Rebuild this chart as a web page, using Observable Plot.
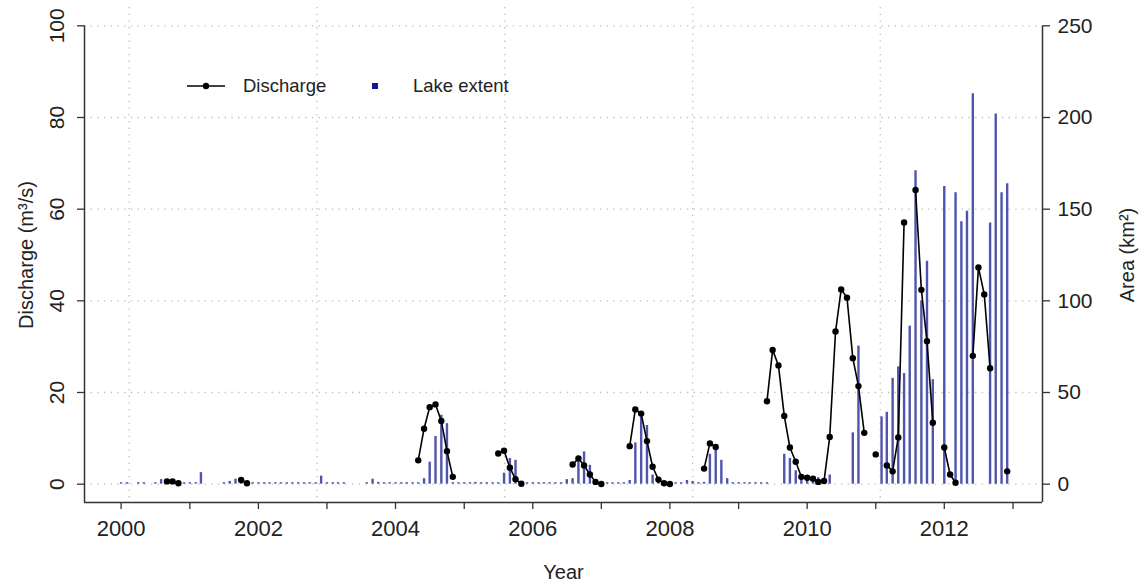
<!DOCTYPE html>
<html>
<head>
<meta charset="utf-8">
<script src="https://cdn.jsdelivr.net/npm/d3@7"></script>
<script src="https://cdn.jsdelivr.net/npm/@observablehq/plot@0.6"></script>
<style>
  html, body { margin: 0; padding: 0; background: #fff; }
  #chart { width: 1141px; height: 584px; }
</style>
</head>
<body>
<div id="chart"></div>
<script>
// Monthly series, January 2000 – December 2012 (one row of 12 per year).
const firstYear = 2000;

// River discharge (m³/s); null = no measurement that month
const discharge = [
  null, null, null, null, null, null, null, null, 0.6, 0.6, 0.2, null,   // 2000
  null, null, null, null, null, null, null, null, null, 0.9, 0.2, null,  // 2001
  null, null, null, null, null, null, null, null, null, null, null, null, // 2002
  null, null, null, null, null, null, null, null, null, null, null, null, // 2003
  null, null, null, null, 5.2, 12.1, 16.8, 17.4, 13.8, 7.2, 1.6, null,   // 2004
  null, null, null, null, null, null, 6.7, 7.3, 3.6, 1.1, 0.1, null,     // 2005
  null, null, null, null, null, null, null, 4.3, 5.6, 4.1, 2.1, 0.5,     // 2006
  0.05, null, null, null, null, 8.3, 16.3, 15.4, 9.4, 3.8, 1.0, 0.2,     // 2007
  0.05, null, null, null, null, null, 3.4, 8.9, 8.1, null, null, null,   // 2008
  null, null, null, null, null, 18.1, 29.3, 25.9, 14.9, 8.0, 4.9, 1.6,   // 2009
  1.4, 1.2, 0.5, 0.7, 10.3, 33.3, 42.5, 40.7, 27.5, 21.4, 11.2, null,    // 2010
  6.5, null, 4.1, 2.8, 10.2, 57.1, null, 64.2, 42.4, 31.2, 13.4, null,   // 2011
  8.0, 2.1, 0.3, null, null, 28.0, 47.3, 41.4, 25.3, null, null, 2.8     // 2012
];

// Glacial lake extent (km²); null = no scene that month
const lakeArea = [
  0.8, 0.8, null, 0.8, 0.8, null, 0.8, 2.5, 1.5, 1.0, 0.8, 0.8,          // 2000
  0.8, 0.8, 6.3, null, null, null, 0.8, 1.5, 2.7, 1.2, 0.8, 0.8,         // 2001
  0.8, 0.8, 0.8, 0.8, 0.8, 0.8, 0.8, 0.8, 0.8, 0.8, 0.8, 4.4,            // 2002
  0.8, 0.8, 0.8, 0.8, null, null, null, 0.8, 2.7, 1.0, 0.8, 0.8,         // 2003
  0.8, 0.8, 0.8, 0.8, 0.8, 3.0, 12.0, 26.0, 37.6, 33.0, 0.8, 0.8,        // 2004
  0.8, 0.8, 1.0, 0.8, 0.8, 0.8, 0.8, 6.0, 14.0, 13.0, 0.8, 0.8,          // 2005
  0.8, 0.8, 0.8, 0.8, 0.8, 0.8, 2.5, 3.0, 12.1, 17.6, 10.3, 0.8,         // 2006
  0.8, 0.8, 0.8, 0.8, 0.8, 2.0, 22.5, 38.5, 32.0, 5.0, 1.5, 0.8,         // 2007
  0.8, 0.8, 0.8, 2.0, 1.5, 0.8, 1.0, 16.3, 20.0, 13.0, 3.0, 0.8,         // 2008
  0.8, 0.8, 0.8, 0.8, 0.8, 0.8, null, null, 16.3, 14.0, 7.3, 4.0,        // 2009
  3.0, 3.0, 3.5, 3.0, 5.0, null, null, null, 28.0, 75.3, null, null,     // 2010
  null, 36.7, 39.2, 57.7, 64.0, 60.3, 86.2, 171.0, 100.0, 121.6, 57.0, null, // 2011
  162.3, null, 158.9, 143.2, 148.9, 213.0, null, null, 142.5, 201.9, 158.9, 163.8 // 2012
];

// Axis ticks
const dischargeTicks = [0, 20, 40, 60, 80, 100];
const areaTicks = [0, 50, 100, 150, 200, 250];
const tickYears = [2000, 2001, 2002, 2003, 2004, 2005, 2006, 2007, 2008, 2009, 2010, 2011, 2012, 2013];
// Vertical reference grid (every 1000 days of the date axis)
const gridDates = ["2000-02-13", "2002-11-09", "2005-08-05", "2008-05-01", "2011-01-25"];
// Date extent of the panel
const xExtent = ["1999-06-20", "2013-06-07"];

// Right axis: 250 km² of lake extent shares the height of 100 m³/s of discharge
const areaPerUnit = 2.5;

const utc = s => new Date(s + "T00:00:00Z");
const rows = discharge.map((q, i) => ({
  date: new Date(Date.UTC(firstYear + Math.floor(i / 12), i % 12, 1)),
  discharge: q,
  area: lakeArea[i]
}));
const xDomain = xExtent.map(utc);
const yearDates = tickYears.map(y => new Date(Date.UTC(y, 0, 1)));

const font = "'Liberation Sans', Arial, Helvetica, sans-serif";
const ink = "#222";
const axisInk = "#333";
const gridStyle = {stroke: "#bdbdbd", strokeWidth: 1.3, strokeDasharray: "1.3,5.4"};
const centred = {textAnchor: "middle", lineAnchor: "middle"};

const chart = Plot.plot({
  width: 1141,
  height: 584,
  marginLeft: 84,
  marginRight: 99,
  marginTop: 7,
  marginBottom: 82,
  style: {fontFamily: font, color: ink, background: "#fff", overflow: "visible"},
  x: {type: "utc", domain: xDomain, axis: null},
  y: {domain: [-4, 104], axis: null},
  marks: [
    // dotted grid
    Plot.ruleY(dischargeTicks, gridStyle),
    Plot.ruleX(gridDates.map(utc), gridStyle),

    // lake extent as thin vertical bars (right axis)
    Plot.ruleX(rows.filter(d => d.area != null), {
      x: "date", y1: 0, y2: d => d.area / areaPerUnit,
      stroke: "#4f54ad", strokeWidth: 2.4
    }),

    // discharge line with points (left axis)
    Plot.line(rows, {x: "date", y: "discharge", stroke: "#000", strokeWidth: 1.6}),
    Plot.dot(rows.filter(d => d.discharge != null), {x: "date", y: "discharge", r: 3.2, fill: "#000"}),

    // panel outline: bottom, left and right sides
    Plot.ruleY([-4], {stroke: axisInk, strokeWidth: 1.5}),
    Plot.ruleX(xDomain, {y1: -4, y2: 100, stroke: axisInk, strokeWidth: 1.5}),

    // bottom axis: yearly ticks, labels on even years
    Plot.axisX(yearDates, {
      anchor: "bottom", tickSize: 7, tickPadding: 11, fontSize: 22, label: null,
      stroke: axisInk, strokeWidth: 1.3,
      tickFormat: d => (d.getUTCFullYear() % 2 === 0 ? String(d.getUTCFullYear()) : "")
    }),

    // left axis: ticks and rotated labels
    Plot.axisY(dischargeTicks, {
      anchor: "left", tickSize: 7, label: null, stroke: axisInk, strokeWidth: 1.3,
      tickFormat: () => ""
    }),
    Plot.text(dischargeTicks, {
      y: d => d, text: d => String(d), frameAnchor: "left", dx: -27,
      rotate: -90, fontSize: 21, fill: ink, ...centred
    }),

    // right axis: lake area
    Plot.axisY(areaTicks.map(a => a / areaPerUnit), {
      anchor: "right", tickSize: 7, tickPadding: 8, fontSize: 21, label: null,
      stroke: axisInk, strokeWidth: 1.3,
      tickFormat: v => String(Math.round(v * areaPerUnit))
    }),

    // axis titles
    Plot.text(["Discharge (m³/s)"], {frameAnchor: "left", dx: -58, rotate: -90, fontSize: 20, fill: ink, ...centred}),
    Plot.text(["Area (km²)"], {frameAnchor: "right", dx: 85, rotate: -90, fontSize: 20, fill: ink, ...centred}),
    Plot.text(["Year"], {frameAnchor: "bottom", dy: 70, fontSize: 20, fill: ink, ...centred})
  ]
});

// in-panel legend
const svg = d3.select(chart);
const legend = svg.append("g")
  .attr("font-family", font)
  .attr("font-size", 18.5)
  .attr("text-anchor", "start")
  .attr("fill", ink);
legend.append("line")
  .attr("x1", 187).attr("x2", 225).attr("y1", 86).attr("y2", 86)
  .attr("stroke", "#000").attr("stroke-width", 1.6);
legend.append("circle").attr("cx", 206).attr("cy", 86).attr("r", 3.2).attr("fill", "#000");
legend.append("text").attr("x", 243).attr("y", 86).attr("dy", "0.35em").text("Discharge");
legend.append("rect").attr("x", 372).attr("y", 83).attr("width", 6).attr("height", 6).attr("fill", "#0b1a8c");
legend.append("text").attr("x", 413).attr("y", 86).attr("dy", "0.35em").text("Lake extent");

document.getElementById("chart").appendChild(chart);
</script>
</body>
</html>
